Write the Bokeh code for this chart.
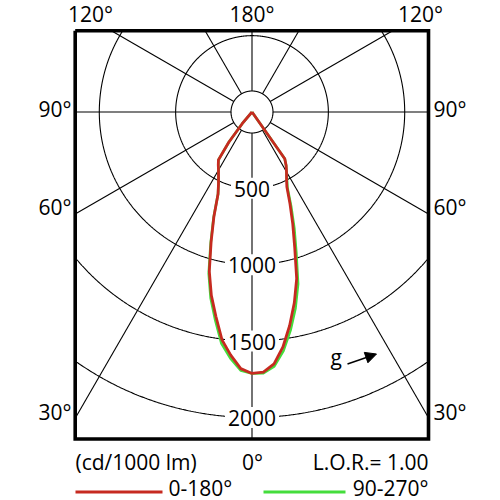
import numpy as np
from bokeh.plotting import figure
from bokeh.models import Range1d, Arrow, NormalHead
from bokeh.core.properties import value
from bokeh.embed import file_html
from bokeh.resources import INLINE

# ---- data (gamma in degrees, intensities in cd/1000 lm) ----
gamma = [0, 2.5, 5, 7.5, 10, 12.5, 15, 17.5, 20, 22.5, 25, 27.5, 30, 32.5, 35, 37.5, 40, 45, 60, 90, 120, 150, 180]
# plane 0-180: C0 half (right) and C180 half (left)
red_c0 = [1712, 1705, 1656, 1552, 1420, 1280, 1130, 930, 780, 650, 540, 490, 452, 416, 374, 0, 0, 0, 0, 0, 0, 0, 0]
red_c180 = [1712, 1682, 1598, 1505, 1360, 1230, 1080, 890, 730, 581, 519, 475, 439, 411, 383, 250, 100, 0, 0, 0, 0, 0, 0]
# plane 90-270: C90 half (right) and C270 half (left)
green_c90 = [1712, 1712, 1672, 1578, 1452, 1316, 1166, 965, 810, 670, 550, 495, 452, 416, 374, 0, 0, 0, 0, 0, 0, 0, 0]
green_c270 = [1712, 1694, 1620, 1530, 1385, 1250, 1095, 900, 735, 581, 519, 475, 439, 411, 383, 250, 100, 0, 0, 0, 0, 0, 0]

ring_values = [500, 1000, 1500, 2000]
ring_labels = ["500", "1000", "1500", "2000"]
spoke_angles = [0, 30, 60, 90, 120, 150, 180, 210, 240, 270, 300, 330]

legend_names = ["0-180°", "90-270°"]
RED = "#c62a20"
GREEN = "#44dd3c"
FONT = value("Open Sans")
FS = "21px"
TDY = -7.0          # baseline correction for rendered text

# ---- layout helpers (screen px -> data) ----
S = 0.1527          # px per cd
CX, CY = 251.5, 111.5
W = H = 500
OX, OY = 0, 0       # canvas origin on the page


def dx(px):
    return (px - CX) / S


def dy(py):
    return (CY - py) / S


p = figure(width=W, height=H, output_backend="svg", toolbar_location=None,
           x_range=Range1d(dx(OX), dx(OX + W)), y_range=Range1d(dy(OY + H), dy(OY)),
           x_axis_location=None, y_axis_location=None, min_border=0,
           outline_line_color=None, background_fill_color="white")
p.grid.grid_line_color = None

# box
bx0, bx1 = dx(74.7), dx(428.0)
by1, by0 = dy(30.3), dy(438.5)

# rings clipped to box
th = np.radians(np.linspace(0, 360, 1441))
for R in ring_values:
    xs = R * np.sin(th)
    ys = -R * np.cos(th)
    inside = (xs >= bx0) & (xs <= bx1) & (ys >= by0) & (ys <= by1)
    xs = np.where(inside, xs, np.nan)
    ys = np.where(inside, ys, np.nan)
    p.line(xs, ys, line_color="black", line_width=1.1)

# spokes from inner circle to box edge
r0 = 21.0 / S
for a in spoke_angles:
    ux, uy = np.sin(np.radians(a)), -np.cos(np.radians(a))
    ts = []
    if abs(ux) > 1e-9:
        ts.append((bx1 if ux > 0 else bx0) / ux)
    if abs(uy) > 1e-9:
        ts.append((by1 if uy > 0 else by0) / uy)
    t = min(ts)
    p.line([r0 * ux, t * ux], [r0 * uy, t * uy], line_color="black", line_width=1.1)

# inner circle
p.line(r0 * np.sin(th), -r0 * np.cos(th), line_color="black", line_width=1.1)

# ring labels with white background
lab_y = [-R - (7.5 + TDY) / S for R in ring_values]
p.rect(x=[0] * 4, y=[-R for R in ring_values], width=[len(t) * 12 + 6 for t in ring_labels],
       height=[21] * 4, width_units="screen", height_units="screen",
       fill_color="white", line_color=None)
p.text(x=[0] * 4, y=lab_y, text=ring_labels, text_font=FONT, text_font_size=FS,
       text_align="center", text_baseline="alphabetic", text_color="black")

# curves
g = np.radians(np.array(gamma))


def curve(right, left):
    r = np.array(right, dtype=float)
    l = np.array(left, dtype=float)
    x = np.concatenate([-l[::-1] * np.sin(g[::-1]), r * np.sin(g)])
    y = np.concatenate([-l[::-1] * np.cos(g[::-1]), -r * np.cos(g)])
    return x, y


gx, gy = curve(green_c90, green_c270)
rx, ry = curve(red_c0, red_c180)
p.line(gx, gy, line_color=GREEN, line_width=2.6, line_join="round")
p.line(rx, ry, line_color=RED, line_width=2.8, line_join="round")

# box frame
p.line([bx0, bx1, bx1, bx0, bx0], [by1, by1, by0, by0, by1], line_color="black",
       line_width=3.6, line_join="miter")


# angle labels
def txt(px, py, s, align):
    p.text(x=[dx(px)], y=[dy(py + TDY)], text=[s], text_font=FONT, text_font_size=FS,
           text_align=align, text_baseline="alphabetic", text_color="black")


txt(90, 20, "120°", "center")
txt(251.5, 20, "180°", "center")
txt(420, 20, "120°", "center")
txt(71, 115, "90°", "right")
txt(433, 115, "90°", "left")
txt(71, 213, "60°", "right")
txt(433, 213, "60°", "left")
txt(71, 418, "30°", "right")
txt(433, 418, "30°", "left")
txt(75, 468, "(cd/1000 lm)", "left")
txt(252, 468, "0°", "center")
txt(428, 468, "L.O.R.= 1.00", "right")

# g arrow
txt(330, 363, "g", "left")
p.add_layout(Arrow(end=NormalHead(size=11, fill_color="black", line_color="black"),
                   x_start=dx(347), y_start=dy(363.5), x_end=dx(376), y_end=dy(353.5),
                   line_width=1.4, line_color="black"))

# legend
p.line([dx(75), dx(162)], [dy(491.5), dy(491.5)], line_color=RED, line_width=3)
txt(168, 494, legend_names[0], "left")
p.line([dx(263), dx(345)], [dy(491.5), dy(491.5)], line_color=GREEN, line_width=3)
txt(428, 494, legend_names[1], "right")

open("out.html", "w").write(file_html(p, INLINE))
